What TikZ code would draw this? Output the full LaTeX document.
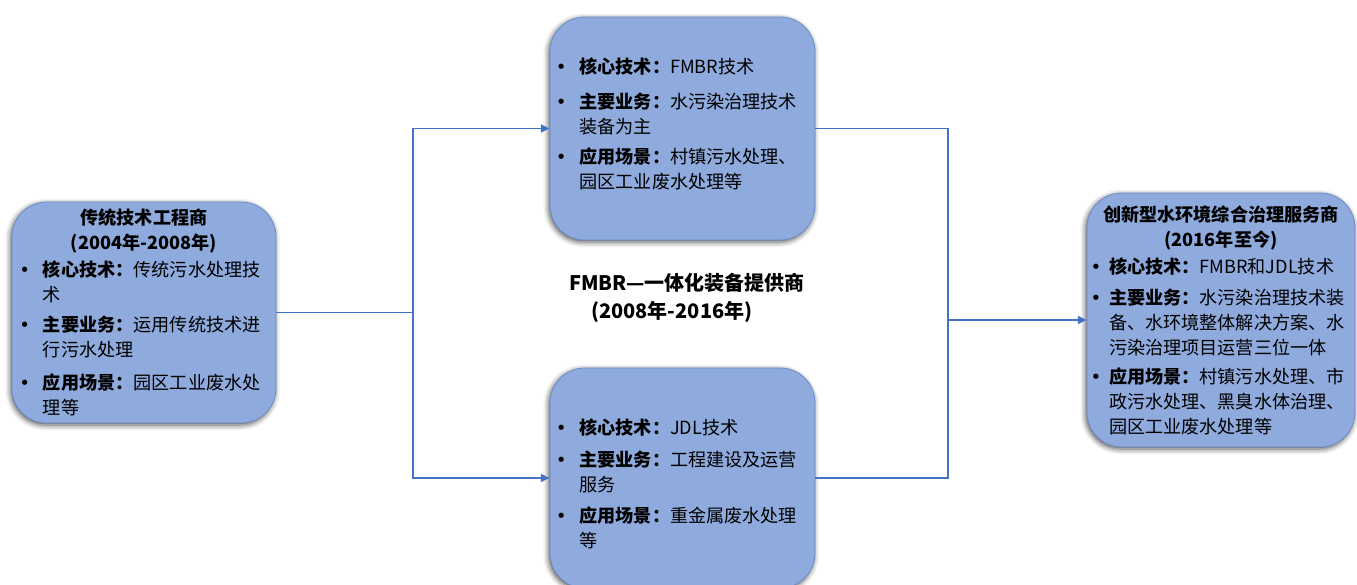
\documentclass[tikz,border=0pt]{standalone}
\usepackage{fontspec}
\setmainfont{Noto Sans CJK SC}
\newfontfamily\dejavu{DejaVu Sans}
\usetikzlibrary{arrows.meta,shadows.blur}
\definecolor{boxfill}{HTML}{8FAADC}
\definecolor{boxline}{HTML}{6A8CC8}
\definecolor{conncol}{HTML}{4472C4}
\newcommand\bl{\makebox[12.75pt][l]{\hspace*{-5pt}{\dejavu •}}}
\newcommand\blr{\makebox[9.75pt][l]{\hspace*{-4pt}{\dejavu •}}}
\newcommand\ind{\hspace*{12.75pt}}
\newcommand\indr{\hspace*{9.75pt}}
\newcommand\ctr[1]{\makebox[\linewidth][c]{\textbf{#1}}}
\tikzset{
  stagebox/.style={draw=boxline, line width=0.6pt, fill=boxfill, rounded corners=26pt,
    blur shadow={shadow xshift=-1pt, shadow yshift=-1.5pt, shadow blur radius=4pt, shadow opacity=70},
    align=left, inner xsep=0pt, inner ysep=0pt,
    font=\fontsize{13.6pt}{18.75pt}\selectfont},
  conn/.style={draw=conncol, line width=1.3pt},
  arr/.style={conn, -{Triangle[length=6.5pt,width=6pt]}},
  midlabel/.style={align=left, inner sep=0pt, font=\fontsize{15pt}{20.5pt}\selectfont\bfseries}
}
\begin{document}
\begin{tikzpicture}[x=0.75pt,y=-0.75pt]
\useasboundingbox (0,0) rectangle (1357,585);

\node[stagebox, minimum width=264*0.75pt, minimum height=221*0.75pt, text width=236*0.75pt] (L) at (144,312.5) {%
\ctr{传统技术工程商}\\
\ctr{(2004年-2008年)}\\[1.5pt]
\bl\textbf{核心技术：}传统污水处理技\\
\ind 术\\[4pt]
\bl\textbf{主要业务：}运用传统技术进\\
\ind 行污水处理\\[6pt]
\bl\textbf{应用场景：}园区工业废水处\\
\ind 理等};

\node[stagebox, minimum width=265*0.75pt, minimum height=223*0.75pt, text width=240*0.75pt] (T) at (682.5,128.5) {%
\bl\textbf{核心技术：}FMBR技术\\[7pt]
\bl\textbf{主要业务：}水污染治理技术\\
\ind 装备为主\\[4pt]
\bl\textbf{应用场景：}村镇污水处理、\\
\ind 园区工业废水处理等\rule[-8pt]{0pt}{8pt}};

\node[stagebox, minimum width=265*0.75pt, minimum height=220*0.75pt, text width=240*0.75pt] (B) at (682.5,478) {%
\rule{0pt}{21pt}\bl\textbf{核心技术：}JDL技术\\[5pt]
\bl\textbf{主要业务：}工程建设及运营\\
\ind 服务\\[4.5pt]
\bl\textbf{应用场景：}重金属废水处理\\
\ind 等};

\node[stagebox, minimum width=268*0.75pt, minimum height=254*0.75pt, text width=250*0.75pt] (R) at (1221,320) {%
\ctr{创新型水环境综合治理服务商}\\
\ctr{(2016年至今)}\\[2pt]
\blr\textbf{核心技术：}FMBR和JDL技术\\[4pt]
\blr\textbf{主要业务：}水污染治理技术装\\
\indr 备、水环境整体解决方案、水\\
\indr 污染治理项目运营三位一体\\[3pt]
\blr\textbf{应用场景：}村镇污水处理、市\\
\indr 政污水处理、黑臭水体治理、\\
\indr 园区工业废水处理等};

\node[midlabel, anchor=west] (M) at (569,298) {FMBR—一体化装备提供商\\\hspace*{16.5pt}(2008年-2016年)};

\coordinate (J1) at (413,312.5);
\coordinate (J2) at (948,320);

\draw[conn] (L.east) -- (J1);
\draw[arr] (J1) |- (T.west);
\draw[arr] (J1) |- (B.west);
\draw[conn] (T.east) -| (J2) |- (B.east);
\draw[arr] (J2) -- (R.west);
\end{tikzpicture}
\end{document}
